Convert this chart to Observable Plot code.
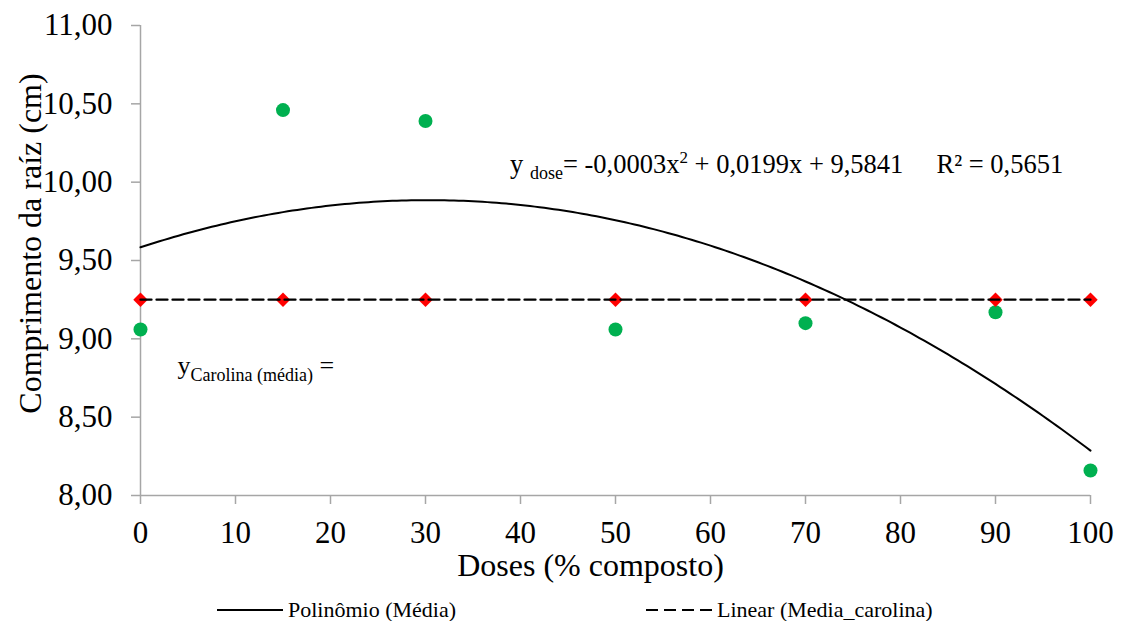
<!DOCTYPE html>
<html><head><meta charset="utf-8">
<script src="https://cdn.jsdelivr.net/npm/d3@7"></script>
<script src="https://cdn.jsdelivr.net/npm/@observablehq/plot@0.6"></script>
<style>
body{margin:0;background:#fff;font-family:"Liberation Serif","Times New Roman",serif;}
#wrap{position:relative;width:1121px;height:621px;overflow:hidden;}
#legend{position:absolute;left:0;top:590px;width:1121px;height:31px;font-size:22px;color:#000;}
.li{position:absolute;top:9px;height:22px;display:flex;align-items:center;white-space:nowrap;}
.li svg{margin-right:5px;}
#chart svg text{font-family:"Liberation Serif","Times New Roman",serif;}
</style></head><body>
<div id="wrap"><div id="chart"></div>
<div id="legend">
  <div class="li" style="left:217px"><svg width="66" height="6"><line x1="0" x2="66" y1="3" y2="3" stroke="#000" stroke-width="2"/></svg><span>Polinômio (Média)</span></div>
  <div class="li" style="left:646px"><svg width="66" height="6"><line x1="0" x2="66" y1="3" y2="3" stroke="#000" stroke-width="2" stroke-dasharray="12,6"/></svg><span>Linear (Media_carolina)</span></div>
</div></div>
<script>
const doses = [0, 15, 30, 50, 70, 90, 100];
const media = [9.06, 10.46, 10.39, 9.06, 9.10, 9.17, 8.16];
const mediaCarolina = [9.25, 9.25, 9.25, 9.25, 9.25, 9.25, 9.25];
const yTicks = [8, 8.5, 9, 9.5, 10, 10.5, 11];
const xTicks = [0, 10, 20, 30, 40, 50, 60, 70, 80, 90, 100];
const xLabel = "Doses (% composto)";
const yLabel = "Comprimento da raíz (cm)";
const eqPos = {x: 38.9, y: 10.11};
const carPos = {x: 3.9, y: 8.83};

const pts = doses.map((d, i) => ({dose: d, media: media[i]}));
const carol = doses.map((d, i) => ({dose: d, v: mediaCarolina[i]}));

// least-squares quadratic fit (like the spreadsheet's polynomial trendline)
function quadFit(xs, ys) {
  const S = k => d3.sum(xs, x => x ** k);
  const T = k => d3.sum(xs, (x, i) => x ** k * ys[i]);
  const M = [[S(0), S(1), S(2), T(0)], [S(1), S(2), S(3), T(1)], [S(2), S(3), S(4), T(2)]];
  for (let i = 0; i < 3; i++) {
    for (let j = i + 1; j < 3; j++) {
      const f = M[j][i] / M[i][i];
      for (let k = i; k < 4; k++) M[j][k] -= f * M[i][k];
    }
  }
  const c = [0, 0, 0];
  for (let i = 2; i >= 0; i--) {
    let s = M[i][3];
    for (let k = i + 1; k < 3; k++) s -= M[i][k] * c[k];
    c[i] = s / M[i][i];
  }
  return c;
}
const [c0, c1, c2] = quadFit(doses, media);
const xMin = d3.min(doses), xMax = d3.max(doses);
const curve = d3.range(xMin, xMax + 0.001, 0.5).map(x => ({x, y: c0 + c1 * x + c2 * x * x}));

const fmt = d => d.toFixed(2).replace(".", ",");
const gray = "#a6a6a6";
const serif = "'Liberation Serif','Times New Roman',serif";

const chart = Plot.plot({
  width: 1121, height: 590,
  marginLeft: 140, marginRight: 31, marginTop: 25, marginBottom: 95,
  style: {fontFamily: serif, fontSize: "31px", color: "#000", background: "#fff"},
  x: {domain: [0, 100]},
  y: {domain: [8, 11]},
  marks: [
    Plot.ruleX([0], {y1: 8, y2: 11, stroke: gray, strokeWidth: 1.5}),
    Plot.ruleY([8], {x1: 0, x2: 100, stroke: gray, strokeWidth: 1.5}),
    Plot.axisY({ticks: yTicks, tickFormat: fmt, tickSize: 9, tickPadding: 19, stroke: gray, strokeWidth: 1.5, fill: "#000", fontFamily: serif, fontSize: 31, label: null}),
    Plot.axisX({ticks: xTicks, tickSize: 9, tickPadding: 16, stroke: gray, strokeWidth: 1.5, fill: "#000", fontFamily: serif, fontSize: 31, label: null}),
    Plot.dot(pts, {x: "dose", y: "media", r: 7, fill: "#00b050", stroke: null}),
    Plot.dot(carol, {x: "dose", y: "v", r: 6.5, symbol: "diamond2", fill: "#ff0000", stroke: null}),
    Plot.line(curve, {x: "x", y: "y", stroke: "#000", strokeWidth: 2, curve: "linear"}),
    Plot.linearRegressionY(carol, {x: "dose", y: "v", stroke: "#000", strokeWidth: 2.3, strokeDasharray: "11,5", ci: 0}),
    Plot.text([eqPos], {x: "x", y: "y", text: () => "§eq§", textAnchor: "start", fontSize: 26.5}),
    Plot.text([carPos], {x: "x", y: "y", text: () => "§car§", textAnchor: "start", fontSize: 26}),
    Plot.text([xLabel], {frameAnchor: "bottom", lineAnchor: "middle", textAnchor: "middle", dx: -25, dy: 70, fontSize: 32}),
    Plot.text([yLabel], {frameAnchor: "left", lineAnchor: "middle", textAnchor: "middle", rotate: -90, dx: -110, dy: -17, fontSize: 32})
  ]
});
document.getElementById("chart").appendChild(chart);

function rich(key, parts) {
  d3.select(chart).selectAll("text").filter(function () { return this.textContent === key; }).each(function () {
    const t = d3.select(this);
    t.text(null).style("white-space", "pre");
    for (const p of parts) {
      const s = t.append("tspan").attr("dy", p.dy || 0).text(p.t);
      if (p.size) s.attr("font-size", p.size);
    }
  });
}
const nb = "\u00a0";
rich("§eq§", [
  {t: "y" + nb},
  {t: "dose", size: 18, dy: 6},
  {t: "= -0,0003x", dy: -6},
  {t: "2", size: 17, dy: -10},
  {t: " + 0,0199x + 9,5841" + nb.repeat(5) + "R² = 0,5651", dy: 10}
]);
rich("§car§", [
  {t: "y"},
  {t: "Carolina (média)", size: 18, dy: 7},
  {t: nb + "=", dy: -7}
]);
</script></body></html>
